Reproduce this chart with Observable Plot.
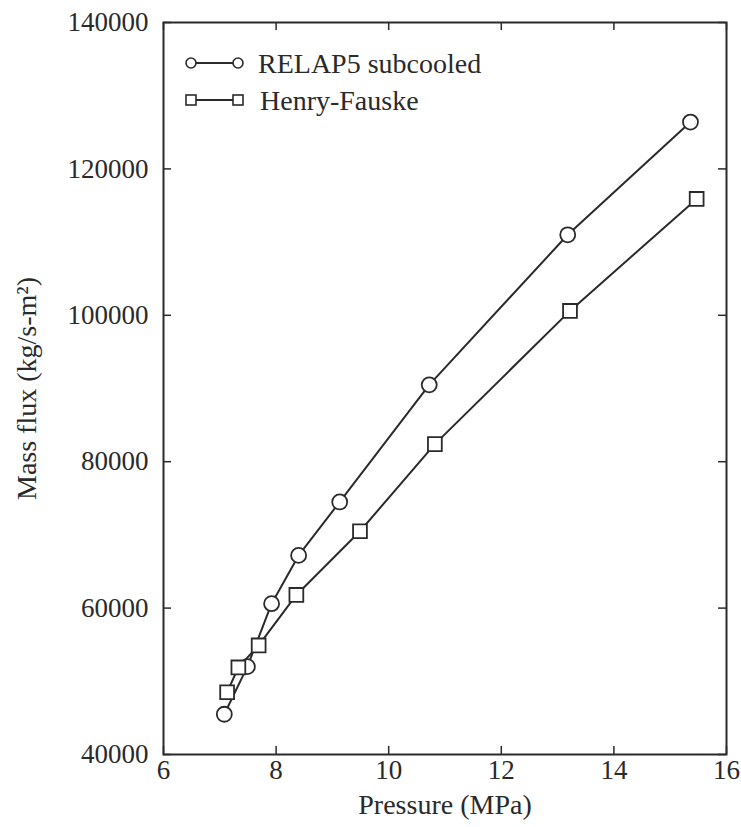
<!DOCTYPE html>
<html><head><meta charset="utf-8">
<script src="https://cdn.jsdelivr.net/npm/d3@7"></script>
<script src="https://cdn.jsdelivr.net/npm/@observablehq/plot@0.6"></script>
<style>
body{margin:0;background:#fff;}
#wrap{position:relative;width:741px;height:827px;}
</style></head><body><div id="wrap"></div>
<script>
const seriesNames = ["RELAP5 subcooled", "Henry-Fauske"];
const relapPressure = [7.08, 7.49, 7.92, 8.40, 9.13, 10.72, 13.18, 15.36];
const relapFlux = [45500, 52000, 60600, 67200, 74500, 90500, 111000, 126400];
const hfPressure = [7.13, 7.33, 7.69, 8.36, 9.49, 10.82, 13.22, 15.47];
const hfFlux = [48500, 51900, 54900, 61800, 70500, 82400, 100600, 115900];
const xTicks = [6, 8, 10, 12, 14, 16];
const yTicks = [40000, 60000, 80000, 100000, 120000, 140000];
const xLabel = "Pressure (MPa)";
const yLabel = "Mass flux (kg/s-m²)";

const relap = relapPressure.map((p, i) => ({p, g: relapFlux[i]}));
const hf = hfPressure.map((p, i) => ({p, g: hfFlux[i]}));

const W = 741, H = 827, mL = 163, mR = 15, mT = 22, mB = 73;
const pw = W - mL - mR, ph = H - mT - mB, tk = 8;
const ink = "#2a2a2a";

const chart = Plot.plot({
  width: W, height: H,
  marginLeft: mL, marginRight: mR, marginTop: mT, marginBottom: mB,
  style: {fontFamily: "'Liberation Serif', serif", fontSize: "27px", color: ink, background: "#fff"},
  x: {domain: [6, 16], label: null},
  y: {domain: [40000, 140000], label: null},
  marks: [
    Plot.axisX(xTicks, {tickSize: 0, tickPadding: 5, tickFormat: d => String(d)}),
    Plot.axisY(yTicks, {tickSize: 0, tickPadding: 15, tickFormat: d => String(d)}),
    Plot.ruleX(xTicks, {x: d => d, insetTop: ph - tk, stroke: ink, strokeWidth: 1.5}),
    Plot.ruleX(xTicks, {x: d => d, insetBottom: ph - tk, stroke: ink, strokeWidth: 1.5}),
    Plot.ruleY(yTicks, {y: d => d, insetRight: pw - tk, stroke: ink, strokeWidth: 1.5}),
    Plot.ruleY(yTicks, {y: d => d, insetLeft: pw - tk, stroke: ink, strokeWidth: 1.5}),
    Plot.frame({stroke: ink, strokeWidth: 2}),
    Plot.line(relap, {x: "p", y: "g", stroke: ink, strokeWidth: 2}),
    Plot.line(hf, {x: "p", y: "g", stroke: ink, strokeWidth: 2}),
    Plot.dot(relap, {x: "p", y: "g", r: 7.5, symbol: "circle", fill: "white", stroke: ink, strokeWidth: 1.8}),
    Plot.dot(hf, {x: "p", y: "g", r: 7.8, symbol: "square", fill: "white", stroke: ink, strokeWidth: 1.8}),
    Plot.text([xLabel], {frameAnchor: "bottom", dy: 51, text: d => d, fontSize: 28, fill: ink, textAnchor: "middle", lineAnchor: "middle"}),
    Plot.text([yLabel], {frameAnchor: "left", dx: -136, rotate: -90, text: d => d, fontSize: 28, fill: ink, textAnchor: "middle", lineAnchor: "middle"})
  ]
});
document.getElementById("wrap").appendChild(chart);

// legend inside the frame, top-left
const svg = d3.select(chart);
const lg = svg.append("g").attr("font-family", "'Liberation Serif', serif").attr("font-size", 28).attr("fill", ink).attr("text-anchor", "start");
const rows = [{y: 63, sym: "circle", tx: 258}, {y: 100, sym: "square", tx: 260}];
seriesNames.forEach((name, i) => {
  const r = rows[i];
  lg.append("line").attr("x1", 191).attr("x2", 238).attr("y1", r.y).attr("y2", r.y).attr("stroke", ink).attr("stroke-width", 2);
  [191, 238].forEach(cx => {
    if (r.sym === "circle") {
      lg.append("circle").attr("cx", cx).attr("cy", r.y).attr("r", 5).attr("fill", "white").attr("stroke", ink).attr("stroke-width", 1.6);
    } else {
      lg.append("rect").attr("x", cx - 5).attr("y", r.y - 5).attr("width", 10).attr("height", 10).attr("fill", "white").attr("stroke", ink).attr("stroke-width", 1.6);
    }
  });
  lg.append("text").attr("x", r.tx).attr("y", r.y).attr("dy", "0.35em").attr("text-anchor", "start").text(name);
});
</script>
</body></html>
